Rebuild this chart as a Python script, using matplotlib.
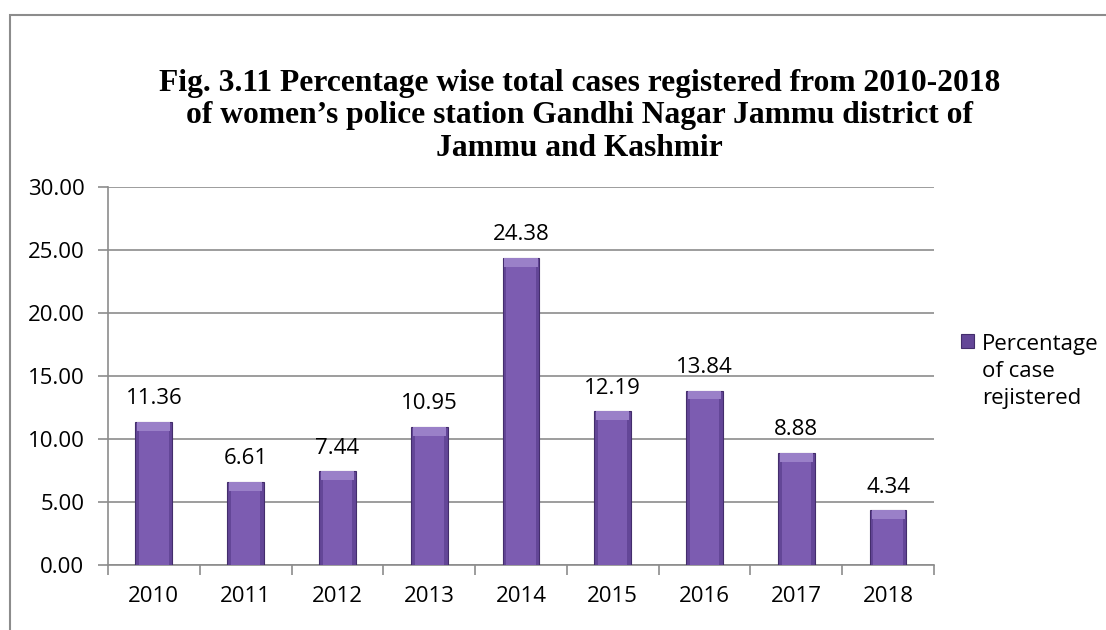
import numpy as np
import matplotlib
matplotlib.use('Agg')
import matplotlib.pyplot as plt
from matplotlib.patches import Rectangle
from matplotlib.ticker import FixedLocator

years = ['2010', '2011', '2012', '2013', '2014', '2015', '2016', '2017', '2018']
percent = [11.36, 6.61, 7.44, 10.95, 24.38, 12.19, 13.84, 8.88, 4.34]
yticks = [0, 5, 10, 15, 20, 25, 30]

title = ("Fig. 3.11 Percentage wise total cases registered from 2010-2018\n"
         "of women\u2019s police station Gandhi Nagar Jammu district of\n"
         "Jammu and Kashmir")

fig = plt.figure(figsize=(11.06, 6.30), dpi=100)
ax = fig.add_axes([0.0976, 0.1032, 0.7469, 0.6])

# outer chart frame (only left and top visible)
fig.patches.append(Rectangle((0.009, -0.1), 1.2, 1.076, transform=fig.transFigure,
                             fill=False, edgecolor='#8c8c8c', linewidth=1.5))

x = np.arange(len(years))
vals = np.array(percent)
bevel = 0.7
# bevelled bars: dark outer body, light top cap, mid-tone face
ax.bar(x, vals, width=0.4, color='#634697', edgecolor='#432d6c',
       linewidth=0.8, zorder=3, label='Percentage\nof case\nrejistered')
ax.bar(x, np.full(len(x), bevel), bottom=vals - bevel, width=0.36,
       color='#9a80c8', linewidth=0, zorder=4)
ax.bar(x, vals - bevel, width=0.32, color='#7c5cb1', linewidth=0, zorder=5)

for xi, v in zip(x, percent):
    ax.text(xi, v + 1.0, f'{v:.2f}', ha='center', va='bottom', fontsize=16,
            family='Open Sans', color='black')

ax.set_xlim(-0.5, len(years) - 0.5)
ax.set_ylim(0, 30)
ax.set_yticks(yticks)
ax.set_yticklabels([f'{t:.2f}' for t in yticks], fontsize=16, family='Open Sans')
ax.set_xticks(x)
ax.set_xticklabels(years, fontsize=16, family='Open Sans')
ax.xaxis.set_minor_locator(FixedLocator(np.arange(-0.5, len(years), 1.0)))
ax.tick_params(axis='x', which='major', length=0, pad=15)
ax.tick_params(axis='x', which='minor', length=7, width=1.2, color='#8c8c8c', direction='out')
ax.tick_params(axis='y', which='major', length=7, width=1.2, color='#8c8c8c', pad=10)

ax.grid(axis='y', color='#8c8c8c', linewidth=1.2, zorder=0)
ax.set_axisbelow(True)
for s in ['top', 'right']:
    ax.spines[s].set_visible(False)
for s in ['left', 'bottom']:
    ax.spines[s].set_color('#8c8c8c')
    ax.spines[s].set_linewidth(1.2)

fig.text(0.524, 0.816, title, ha='center', va='center', fontsize=22.7,
         fontweight='bold', family='Liberation Serif', linespacing=1.17)

leg = ax.legend(loc='upper left', bbox_to_anchor=(1.022, 0.635), frameon=False,
                prop={'family': 'Open Sans', 'size': 16}, handlelength=0.6,
                handleheight=0.6, handletextpad=0.35, borderaxespad=0)
for t in leg.get_texts():
    t.set_linespacing(1.38)
# put the marker beside the first text line, as in the original
for col in leg._legend_handle_box.get_children():
    for entry in col.get_children():
        entry.align = 'top'

fig.savefig('out.png', dpi=100)
